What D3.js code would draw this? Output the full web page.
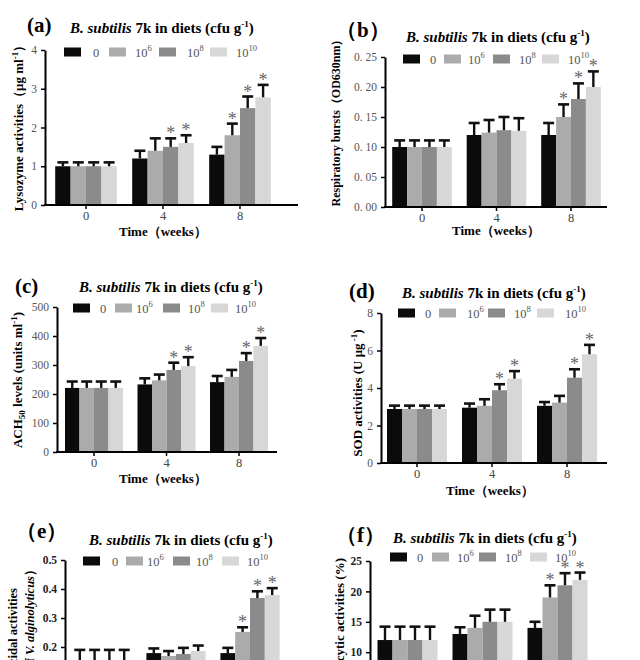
<!DOCTYPE html>
<html><head><meta charset="utf-8">
<script src="https://cdn.jsdelivr.net/npm/d3@7"></script>
<style>body{margin:0;background:#fff}svg{display:block}text{font-family:"Liberation Serif","DejaVu Serif",serif}</style>
</head><body>
<svg id="c" width="640" height="660"></svg>
<script>
// ---------- data ----------
const weeks = ["0", "4", "8"];
const doseKeys = ["0", "1e6", "1e8", "1e10"];
const doseBase = ["0", "10", "10", "10"];
const doseExp = ["", "6", "8", "10"];
const doseColors = ["#0b0b0b", "#ababab", "#8b8b8b", "#d7d7d7"];

// (a) Lysozyme activities (µg ml-1)
const lysozymeMean = [[1.0, 1.0, 1.0, 1.0], [1.2, 1.4, 1.5, 1.6], [1.3, 1.8, 2.5, 2.78]];
const lysozymeSD   = [[0.1, 0.1, 0.1, 0.1], [0.2, 0.32, 0.22, 0.2], [0.2, 0.3, 0.3, 0.32]];
const lysozymeSig  = [[0, 0, 0, 0], [0, 0, 1, 1], [0, 1, 1, 1]];
const lysozymeTicks = [0, 1, 2, 3, 4];

// (b) Respiratory bursts (OD630nm)
const burstMean = [[0.10, 0.10, 0.10, 0.10], [0.12, 0.124, 0.128, 0.127], [0.12, 0.15, 0.18, 0.20]];
const burstSD   = [[0.011, 0.011, 0.011, 0.011], [0.02, 0.021, 0.022, 0.021], [0.02, 0.021, 0.026, 0.026]];
const burstSig  = [[0, 0, 0, 0], [0, 0, 0, 0], [0, 1, 1, 1]];
const burstTicks = [0, 0.05, 0.10, 0.15, 0.20, 0.25];

// (c) ACH50 levels (units ml-1)
const achMean = [[221, 221, 221, 221], [233, 247, 283, 296], [241, 259, 314, 366]];
const achSD   = [[22, 22, 22, 22], [21, 20, 25, 31], [21, 24, 27, 27]];
const achSig  = [[0, 0, 0, 0], [0, 0, 1, 1], [0, 0, 1, 1]];
const achTicks = [0, 100, 200, 300, 400, 500];

// (d) SOD activities (U µg-1)
const sodMean = [[2.88, 2.88, 2.88, 2.88], [2.95, 3.05, 3.88, 4.5], [3.05, 3.22, 4.55, 5.8]];
const sodSD   = [[0.18, 0.18, 0.18, 0.18], [0.22, 0.35, 0.32, 0.4], [0.2, 0.36, 0.45, 0.5]];
const sodSig  = [[0, 0, 0, 0], [0, 0, 1, 1], [0, 0, 1, 1]];
const sodTicks = [0, 2, 4, 6, 8];

// (e) Bactericidal activities (% of V. alginolyticus)
const bactMean = [[0.15, 0.15, 0.15, 0.15], [0.179, 0.169, 0.176, 0.186], [0.179, 0.252, 0.369, 0.379]];
const bactSD   = [[0.04, 0.04, 0.04, 0.04], [0.016, 0.017, 0.021, 0.019], [0.018, 0.016, 0.023, 0.024]];
const bactSig  = [[0, 0, 0, 0], [0, 0, 0, 0], [0, 1, 1, 1]];
const bactTicks = [0, 0.1, 0.2, 0.3, 0.4, 0.5];

// (f) Phagocytic activities (%)
const phagoMean = [[12, 12, 12, 12], [13, 14, 15, 15], [14, 19, 21, 21.9]];
const phagoSD   = [[2.2, 2.2, 2.2, 2.2], [1.1, 2, 2, 2], [1, 2, 2, 1.2]];
const phagoSig  = [[0, 0, 0, 0], [0, 0, 0, 0], [0, 1, 1, 1]];
const phagoTicks = [0, 5, 10, 15, 20, 25];

// ---------- drawing ----------
const svg = d3.select("#c");

function titleText(sel) {
  sel.append("tspan").attr("font-style", "italic").text("B. subtilis");
  sel.append("tspan").text(" 7k in diets (cfu g");
  sel.append("tspan").attr("font-size", 9).attr("dy", -6).text("-1");
  sel.append("tspan").attr("dy", 6).text(")");
}

function drawPanel(p) {
  const g = svg.append("g");
  const y = d3.scaleLinear().domain(p.yDomain).range([p.y0, p.yTop]);
  const x0 = d3.scaleBand().domain(weeks)
    .range([p.c0 - p.step / 2, p.c0 + p.step * 2.5])
    .paddingInner(0.2).paddingOuter(0.1);
  const x1 = d3.scaleBand().domain(doseKeys).range([0, x0.bandwidth()]);

  const flat = [];
  weeks.forEach((w, i) => doseKeys.forEach((d, j) => flat.push({
    w, d, j, m: p.mean[i][j], sd: p.sd[i][j], sig: p.sig[i][j]
  })));

  // bars
  g.selectAll("rect.bar").data(flat).join("rect").attr("class", "bar")
    .attr("x", d => x0(d.w) + x1(d.d))
    .attr("y", d => y(d.m))
    .attr("width", x1.bandwidth())
    .attr("height", d => y(0) - y(d.m))
    .attr("fill", d => doseColors[d.j]);

  // error bars (upper)
  const cx = d => x0(d.w) + x1(d.d) + x1.bandwidth() / 2;
  g.selectAll("line.err").data(flat).join("line").attr("class", "err")
    .attr("x1", cx).attr("x2", cx)
    .attr("y1", d => y(d.m)).attr("y2", d => y(d.m + d.sd))
    .attr("stroke", "#111").attr("stroke-width", 2.4);
  g.selectAll("line.cap").data(flat).join("line").attr("class", "cap")
    .attr("x1", d => cx(d) - 5.5).attr("x2", d => cx(d) + 5.5)
    .attr("y1", d => y(d.m + d.sd)).attr("y2", d => y(d.m + d.sd))
    .attr("stroke", "#111").attr("stroke-width", 2.6);
  g.selectAll("text.star").data(flat.filter(d => d.sig)).join("text").attr("class", "star")
    .attr("x", cx).attr("y", d => y(d.m + d.sd) + 1)
    .attr("text-anchor", "middle").attr("font-size", 18).attr("fill", "#666")
    .text("*");

  // y axis
  const ya = g.append("g").attr("transform", `translate(${p.yAxisX},0)`)
    .call(d3.axisLeft(y).tickValues(p.ticks).tickSize(4).tickSizeOuter(0).tickFormat(p.fmt));
  ya.select(".domain").attr("stroke", "#000").attr("stroke-width", 2);
  ya.selectAll(".tick line").attr("stroke", "#000").attr("stroke-width", 1.5);
  ya.selectAll(".tick text").attr("font-family", "Liberation Serif, serif")
    .attr("font-size", 11.5).attr("fill", p.boldTicks ? "#222" : "#555")
    .attr("font-weight", p.boldTicks ? "bold" : "normal").attr("dx", -1);

  // x axis
  const xa = g.append("g").attr("transform", `translate(0,${p.y0})`)
    .call(d3.axisBottom(x0).tickSize(4).tickSizeOuter(0));
  xa.select(".domain").remove();
  xa.selectAll(".tick line").attr("stroke", "#000").attr("stroke-width", 1.5);
  xa.selectAll(".tick text").attr("font-family", "Liberation Serif, serif")
    .attr("font-size", 12.5).attr("fill", "#444").attr("dy", "0.66em");
  g.append("line").attr("x1", p.yAxisX - 1).attr("x2", p.xEnd)
    .attr("y1", p.y0).attr("y2", p.y0).attr("stroke", "#000").attr("stroke-width", 2);

  // panel tag
  g.append("text").attr("x", p.tagX).attr("y", p.tagY)
    .attr("font-size", 21).attr("font-weight", "bold").text(p.tag);
  // title
  g.append("text").attr("x", p.titleX).attr("y", p.titleY)
    .attr("font-size", 15).attr("font-weight", "bold").call(titleText);

  // legend
  doseKeys.forEach((k, j) => {
    g.append("rect").attr("x", p.sx[j]).attr("y", p.ly - 4.5).attr("width", 17).attr("height", 9)
      .attr("fill", doseColors[j]);
    const t = g.append("text").attr("x", p.lx[j]).attr("y", p.ly + 5)
      .attr("font-size", 12.5).attr("fill", "#555");
    t.append("tspan").text(doseBase[j]);
    if (doseExp[j]) t.append("tspan").attr("font-size", 8.5).attr("dy", -6).text(doseExp[j]);
  });

  // y label
  p.ylabel(g);
  // x label
  if (p.xlabelY) {
    g.append("text").attr("x", p.xlabelX).attr("y", p.xlabelY).attr("text-anchor", "middle")
      .attr("font-size", 13).attr("font-weight", "bold").text("Time（weeks）");
  }
}

function rotLabel(g, x, y, anchor, size) {
  return g.append("text").attr("transform", `translate(${x},${y}) rotate(-90)`)
    .attr("text-anchor", anchor).attr("font-size", size).attr("font-weight", "bold");
}

const fmtInt = d3.format("d");
const fmtB = d => d3.format(".2f")(d).replace(".", ". ");
const fmt1 = d3.format(".1f");

drawPanel({
  mean: lysozymeMean, sd: lysozymeSD, sig: lysozymeSig, ticks: lysozymeTicks, fmt: fmtInt,
  yDomain: [0, 4], yAxisX: 45, y0: 205, yTop: 50, c0: 86, step: 77, xEnd: 298,
  tag: "(a)", tagX: 27, tagY: 32, titleX: 70, titleY: 33,
  ly: 52, sx: [64, 109, 159, 210], lx: [93, 135, 187, 236],
  xlabelX: 163, xlabelY: 236,
  ylabel: g => {
    const t = rotLabel(g, 23, 125, "middle", 13);
    t.append("tspan").text("Lysozyme activities（μg ml");
    t.append("tspan").attr("font-size", 9).attr("dy", -5).text("-1");
    t.append("tspan").attr("dy", 5).text("）");
  }
});

drawPanel({
  mean: burstMean, sd: burstSD, sig: burstSig, ticks: burstTicks, fmt: fmtB,
  yDomain: [0, 0.25], yAxisX: 385, y0: 207, yTop: 57, c0: 422, step: 74.5, xEnd: 607,
  tag: "（b）", tagX: 336, tagY: 37, titleX: 406, titleY: 42,
  ly: 59, sx: [403, 444, 493, 542], lx: [430, 468, 519, 568],
  xlabelX: 496, xlabelY: 235,
  ylabel: g => rotLabel(g, 340, 120, "middle", 12).text("Respiratory bursts（OD630nm）")
});

drawPanel({
  mean: achMean, sd: achSD, sig: achSig, ticks: achTicks, fmt: fmtInt,
  yDomain: [0, 500], yAxisX: 57, y0: 452, yTop: 307, c0: 94, step: 72.5, xEnd: 277,
  tag: "(c)", tagX: 15, tagY: 293, titleX: 79, titleY: 292,
  ly: 308, sx: [73, 115, 163, 211], lx: [100, 136, 188, 235],
  xlabelX: 163, xlabelY: 483,
  ylabel: g => {
    const t = rotLabel(g, 22, 380, "middle", 13);
    t.append("tspan").text("ACH");
    t.append("tspan").attr("font-size", 9).attr("dy", 3).text("50");
    t.append("tspan").attr("dy", -3).text(" levels (units ml");
    t.append("tspan").attr("font-size", 9).attr("dy", -5).text("-1");
    t.append("tspan").attr("dy", 5).text(")");
  }
});

drawPanel({
  mean: sodMean, sd: sodSD, sig: sodSig, ticks: sodTicks, fmt: fmtInt,
  yDomain: [0, 8], yAxisX: 381, y0: 463, yTop: 313, c0: 417, step: 75, xEnd: 607,
  tag: "(d)", tagX: 349, tagY: 298, titleX: 402, titleY: 298,
  ly: 313, sx: [398, 439, 488, 537], lx: [425, 467, 514, 565],
  xlabelX: 490, xlabelY: 495,
  ylabel: g => {
    const t = rotLabel(g, 362, 393, "middle", 13);
    t.append("tspan").text("SOD activities (U μg");
    t.append("tspan").attr("font-size", 9).attr("dy", -5).text(" -1");
    t.append("tspan").attr("dy", 5).text(")");
  }
});

drawPanel({
  mean: bactMean, sd: bactSD, sig: bactSig, ticks: bactTicks, fmt: fmt1, boldTicks: true,
  yDomain: [0, 0.5], yAxisX: 65, y0: 705, yTop: 560, c0: 102, step: 74, xEnd: 292,
  tag: "（e）", tagX: 16, tagY: 538, titleX: 89, titleY: 545,
  ly: 561, sx: [83, 126, 173, 222], lx: [112, 147, 196, 247],
  ylabel: g => {
    rotLabel(g, 17, 588, "end", 12.5).text("Bactericidal activities");
    const t = rotLabel(g, 34, 563, "end", 12.5);
    t.append("tspan").text("(% of ");
    t.append("tspan").attr("font-style", "italic").text("V. alginolyticus");
    t.append("tspan").text("）");
  }
});

drawPanel({
  mean: phagoMean, sd: phagoSD, sig: phagoSig, ticks: phagoTicks, fmt: fmtInt, boldTicks: true,
  yDomain: [0, 25], yAxisX: 370, y0: 713, yTop: 561, c0: 407.5, step: 75, xEnd: 600,
  tag: "（f）", tagX: 336, tagY: 542, titleX: 393, titleY: 543,
  ly: 557, sx: [390, 432, 479, 530], lx: [417, 457, 505, 555],
  ylabel: g => rotLabel(g, 344, 558, "end", 13).text("Phagocytic activities (%)")
});
</script>
</body></html>
